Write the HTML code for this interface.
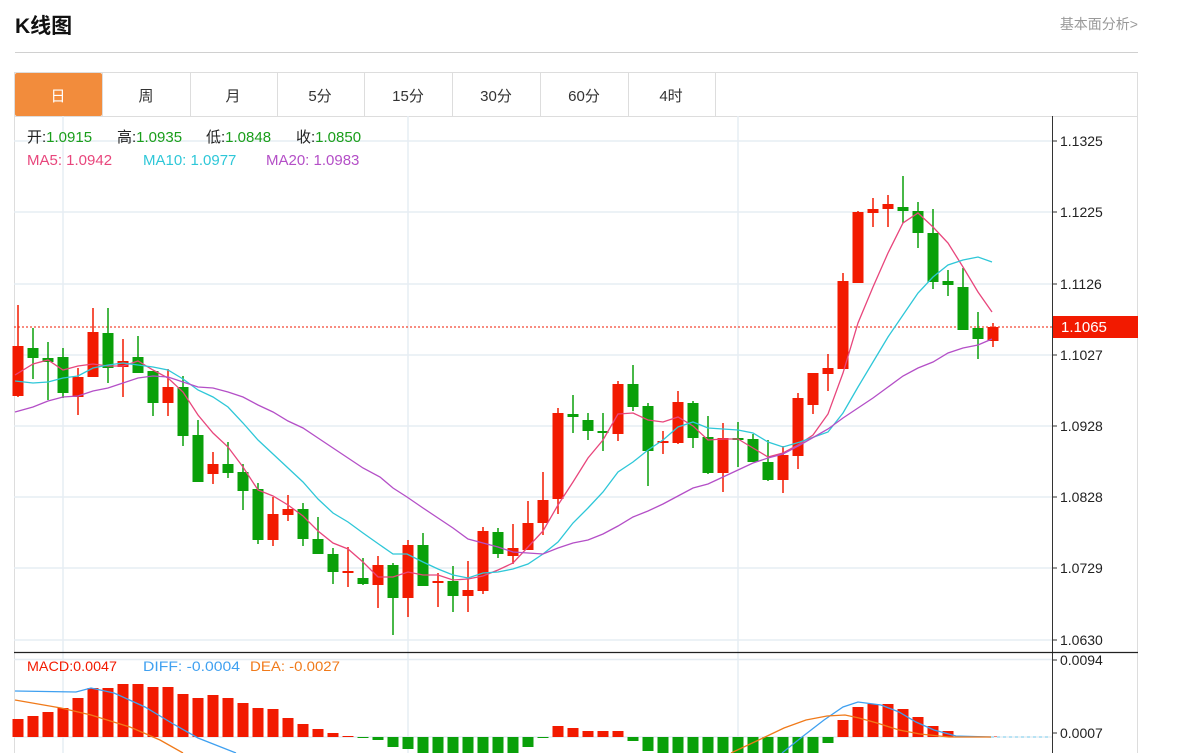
<!DOCTYPE html>
<html><head><meta charset="utf-8"><style>
body{margin:0;width:1180px;height:753px;overflow:hidden;background:#fff;font-family:"Liberation Sans","Noto Sans CJK SC",sans-serif;}
svg{position:absolute;left:0;top:0}
</style></head><body>
<svg id="s" width="1180" height="753" xmlns="http://www.w3.org/2000/svg" font-family="Liberation Sans, Noto Sans CJK SC, sans-serif">
<text x="15" y="33" font-size="21" font-weight="bold" fill="#111">K线图</text>
<text x="1138" y="29" font-size="14" fill="#999" text-anchor="end">基本面分析&gt;</text>
<line x1="15" y1="52.5" x2="1138" y2="52.5" stroke="#d0d0d0"/>
<rect x="14.5" y="72.5" width="1123" height="700" fill="none" stroke="#ddd"/>
<line x1="14" y1="116.5" x2="1138" y2="116.5" stroke="#ddd"/>
<rect x="15" y="73" width="87" height="43" fill="#f28c3c" rx="2"/>
<g stroke="#ddd"><line x1="102.5" y1="73" x2="102.5" y2="116"/><line x1="190.5" y1="73" x2="190.5" y2="116"/><line x1="277.5" y1="73" x2="277.5" y2="116"/><line x1="364.5" y1="73" x2="364.5" y2="116"/><line x1="452.5" y1="73" x2="452.5" y2="116"/><line x1="540.5" y1="73" x2="540.5" y2="116"/><line x1="628.5" y1="73" x2="628.5" y2="116"/><line x1="715.5" y1="73" x2="715.5" y2="116"/></g>
<g font-size="15" text-anchor="middle" fill="#333"><text x="58" y="101" fill="#fff">日</text><text x="146" y="101">周</text><text x="233" y="101">月</text><text x="320" y="101">5分</text><text x="408" y="101">15分</text><text x="496" y="101">30分</text><text x="584" y="101">60分</text><text x="671" y="101">4时</text></g>
<g id="grid" stroke="#e6edf3" stroke-width="1.5"></g>
<g id="plot"></g>
<line x1="1052.5" y1="116" x2="1052.5" y2="753" stroke="#333"/>
<line x1="14" y1="652.5" x2="1138" y2="652.5" stroke="#222" stroke-width="1.2"/>
<line x1="14" y1="659.5" x2="1052" y2="659.5" stroke="#e6edf3" stroke-width="1.5"/>
<g font-size="15">
<text x="27" y="142" fill="#222">开:<tspan fill="#1a9e1a">1.0915</tspan></text>
<text x="117" y="142" fill="#222">高:<tspan fill="#1a9e1a">1.0935</tspan></text>
<text x="206" y="142" fill="#222">低:<tspan fill="#1a9e1a">1.0848</tspan></text>
<text x="296" y="142" fill="#222">收:<tspan fill="#1a9e1a">1.0850</tspan></text>
<text x="27" y="165" fill="#e8467c">MA5: 1.0942</text>
<text x="143" y="165" fill="#2ec7d8">MA10: 1.0977</text>
<text x="266" y="165" fill="#b44fc7">MA20: 1.0983</text></g>
<g font-size="14" fill="#f21a00"><text x="27" y="671" textLength="90" lengthAdjust="spacingAndGlyphs">MACD:0.0047</text><text x="143" y="671" fill="#3fa0f0" textLength="97" lengthAdjust="spacingAndGlyphs">DIFF: -0.0004</text><text x="250" y="671" fill="#f07a1a" textLength="90" lengthAdjust="spacingAndGlyphs">DEA: -0.0027</text></g>
<rect x="1053" y="316" width="85" height="22" fill="#f21a00"/>
<text x="1061" y="332" font-size="15" fill="#fff">1.1065</text>
<g id="ax" font-size="14" fill="#222"></g>
</svg>
<script>
var NS="http://www.w3.org/2000/svg";
function el(p,t,a){var e=document.createElementNS(NS,t);for(var k in a)e.setAttribute(k,a[k]);document.getElementById(p).appendChild(e);return e;}
var gy=[141,212,284,355,426,497,568,640],gl=["1.1325","1.1225","1.1126","1.1027","1.0928","1.0828","1.0729","1.0630"];
gy.forEach(function(y,i){el("grid","line",{x1:14,x2:1052,y1:y,y2:y});el("ax","line",{x1:1052,x2:1057,y1:y,y2:y,stroke:"#333"});var t=el("ax","text",{x:1060,y:y+5});t.textContent=gl[i];});
[63,408,738].forEach(function(x){el("grid","line",{x1:x,x2:x,y1:116,y2:753});});
el("grid","line",{x1:14,x2:1052,y1:737,y2:737});
[[660,"0.0094"],[733,"0.0007"]].forEach(function(a){el("ax","line",{x1:1052,x2:1057,y1:a[0],y2:a[0],stroke:"#333"});var t=el("ax","text",{x:1060,y:a[0]+5});t.textContent=a[1];});
var C=[[346,396,305,397,1],[348,358,328,379,0],[358,362,342,400,0],[357,393,348,398,0],[377,397,368,415,1],[332,377,308,377,1],[333,368,308,383,0],[361,367,339,397,1],[357,373,336,373,0],[371,403,371,416,0],[387,403,369,416,1],[387,436,376,446,0],[435,482,420,482,0],[464,474,452,484,1],[464,473,442,478,0],[472,491,464,510,0],[489,540,483,544,0],[514,540,497,546,1],[509,515,495,521,1],[509,539,503,546,0],[539,554,517,554,0],[554,572,548,584,0],[571,573,547,587,1],[578,584,558,585,0],[565,585,556,608,1],[565,598,563,635,0],[545,598,540,617,1],[545,586,533,586,0],[581,583,573,607,1],[581,596,566,612,0],[590,596,561,612,1],[531,591,527,594,1],[532,554,528,558,0],[548,556,524,564,1],[523,550,501,550,1],[500,523,472,535,1],[413,499,408,514,1],[414,417,395,433,0],[420,431,413,440,0],[431,433,413,451,0],[384,434,381,441,1],[384,407,365,411,0],[406,451,403,486,0],[441,443,431,454,1],[402,443,391,444,1],[403,438,401,448,0],[437,473,416,474,0],[438,473,423,492,1],[438,440,422,467,0],[439,462,434,462,0],[462,480,440,481,0],[455,480,446,493,1],[398,456,393,469,1],[373,405,373,414,1],[368,374,354,391,1],[281,369,273,369,1],[212,283,211,283,1],[209,213,198,227,1],[204,209,195,227,1],[207,211,176,223,0],[211,233,202,248,0],[233,282,209,289,0],[281,285,270,296,0],[287,330,268,330,0],[328,339,312,359,0],[327,341,323,347,1]];
function cx(i){return 18+15*i;}
var M=[18,21,25,29,39,49,49,53,53,50,50,43,39,42,39,34,29,28,19,13,8,4,1,-1,-3,-10,-12,-16,-16,-16,-16,-16,-16,-16,-10,-1,11,9,6,6,6,-4,-14,-16,-16,-16,-16,-16,-16,-16,-16,-16,-16,-16,-6,17,30,33,33,28,20,11,6,1,0.5,0.5];
M.forEach(function(v,i){var x=cx(i)-5.5;if(v>0)el("plot","rect",{x:x,y:737-v,width:11,height:v,fill:"#f21a00"});else if(v<0)el("plot","rect",{x:x,y:737,width:11,height:-v,fill:"#0aa00a"});});
el("plot","line",{x1:991,x2:1050,y1:737,y2:737,stroke:"#7fd0f0","stroke-dasharray":"3,3"});
function pl(pts,c){el("plot","polyline",{points:pts.map(function(p){return p.join(",")}).join(" "),fill:"none",stroke:c,"stroke-width":1.3});}
pl([[15,691],[76,692],[91,688],[114,693],[145,707],[175,725],[198,738],[236,753]],"#3fa0f0");
pl([[782,753],[802,737],[824,720],[843,707],[858,702],[881,705],[899,712],[916,722],[934,730],[956,736],[991,737]],"#3fa0f0");
pl([[15,700],[61,708],[91,715],[130,727],[160,740],[183,753]],"#f07a1a");
pl([[731,753],[763,738],[784,728],[806,720],[827,716],[845,715],[859,718],[877,723],[899,730],[920,734],[949,737],[991,737]],"#f07a1a");
el("plot","line",{x1:14,x2:1052,y1:327,y2:327,stroke:"#f21a00","stroke-dasharray":"2,2"});
C.forEach(function(c,i){var x=cx(i),col=c[4]?"#f21a00":"#0aa00a";el("plot","line",{x1:x,x2:x,y1:c[2],y2:c[3],stroke:col,"stroke-width":1.5});el("plot","rect",{x:x-5.5,y:c[0],width:11,height:Math.max(2,c[1]-c[0]),fill:col});});
pl([[15,375],[33,364],[48,360],[63,370],[78,366],[93,364],[108,366],[123,366],[138,361],[153,370],[168,378],[183,392],[198,415],[213,433],[228,447],[243,467],[258,490],[273,496],[288,505],[303,516],[318,531],[333,543],[348,549],[363,562],[378,577],[393,577],[408,572],[423,575],[438,575],[453,580],[468,579],[483,576],[498,570],[513,563],[528,547],[543,531],[558,505],[573,482],[588,458],[603,440],[618,414],[633,413],[648,420],[663,422],[678,417],[693,426],[708,440],[723,439],[738,439],[753,448],[768,457],[783,453],[798,445],[813,435],[828,414],[843,373],[858,323],[873,287],[888,253],[903,223],[918,213],[933,227],[948,243],[963,267],[978,292],[992,312]],"#e8467c");
pl([[15,381],[33,383],[48,382],[63,378],[78,376],[93,368],[108,365],[123,363],[138,365],[153,367],[168,370],[183,379],[198,390],[213,397],[228,407],[243,423],[258,440],[273,454],[288,468],[303,482],[318,499],[333,513],[348,522],[363,533],[380,545],[393,554],[407,554],[423,562],[438,569],[453,575],[468,578],[483,573],[498,572],[513,569],[528,564],[543,554],[558,542],[573,523],[588,508],[603,492],[618,472],[633,462],[648,450],[663,440],[678,427],[693,422],[708,428],[723,429],[738,430],[753,433],[768,442],[783,447],[800,442],[828,432],[843,413],[858,387],[873,362],[888,337],[903,315],[918,293],[933,277],[948,265],[963,260],[978,257],[992,262]],"#2ec7d8");
pl([[15,412],[33,407],[48,401],[63,397],[78,396],[93,391],[108,388],[123,383],[138,378],[153,376],[168,377],[183,382],[198,387],[213,388],[228,392],[243,397],[258,405],[273,412],[288,421],[303,428],[318,438],[333,448],[348,458],[363,468],[380,477],[393,488],[407,497],[423,508],[438,518],[453,528],[468,539],[483,543],[498,547],[513,552],[528,553],[543,554],[558,548],[573,543],[588,540],[603,534],[618,526],[633,517],[648,511],[663,504],[678,496],[693,488],[708,484],[723,477],[738,470],[753,463],[768,458],[783,454],[800,445],[828,429],[843,418],[858,408],[873,398],[888,387],[903,376],[918,368],[933,362],[948,353],[963,348],[978,345],[992,339]],"#b44fc7");
</script>
</body></html>
